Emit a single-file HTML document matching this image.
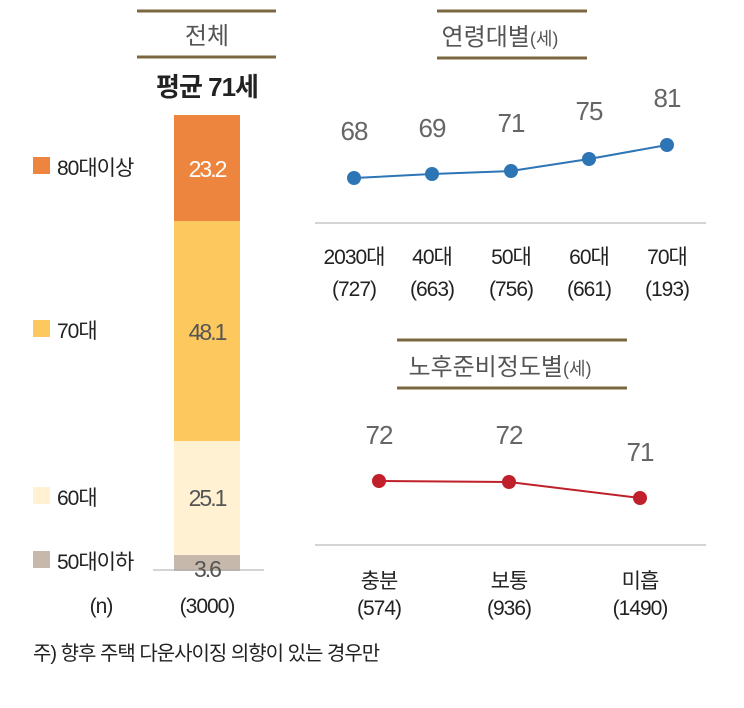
<!DOCTYPE html><html><head><meta charset="utf-8"><style>
body{margin:0;width:744px;height:703px;background:#fff;overflow:hidden}
svg text{font-family:"Liberation Sans","Noto Sans CJK KR",sans-serif}
</style></head><body>
<svg width="744" height="703" viewBox="0 0 744 703">
<g stroke="#7b6841" stroke-width="3">
<line x1="137" y1="11" x2="276" y2="11"/><line x1="137" y1="57" x2="276" y2="57"/>
<line x1="437" y1="11" x2="587" y2="11"/><line x1="437" y1="58" x2="587" y2="58"/>
<line x1="397" y1="340" x2="627" y2="340"/><line x1="397" y1="388" x2="627" y2="388"/>
</g>
<g font-size="24" fill="#555" text-anchor="middle">
<text x="207" y="44">전체</text>
<text x="500" y="45">연령대별<tspan font-size="18">(세)</tspan></text>
<text x="500" y="375">노후준비정도별<tspan font-size="18">(세)</tspan></text>
</g>
<text x="207" y="96" font-size="26" font-weight="bold" text-anchor="middle" fill="#222" letter-spacing="-1">평균 71세</text>
<rect x="174" y="115" width="66" height="106" fill="#ee853f"/>
<rect x="174" y="221" width="66" height="220" fill="#fdc85e"/>
<rect x="174" y="441" width="66" height="114" fill="#fff1d2"/>
<rect x="174" y="555" width="66" height="16" fill="#c6b9ab"/>
<line x1="153" y1="570" x2="264" y2="570" stroke="#aaa"/>
<g font-size="23" text-anchor="middle" letter-spacing="-2">
<text x="207" y="177" fill="#fff">23.2</text>
<text x="207" y="340" fill="#555">48.1</text>
<text x="207" y="506" fill="#555">25.1</text>
<text x="207" y="577" fill="#555">3.6</text>
</g>
<rect x="33" y="157" width="17" height="17" fill="#ee853f"/>
<rect x="33" y="320" width="17" height="17" fill="#fdc85e"/>
<rect x="33" y="487" width="17" height="17" fill="#fff1d2"/>
<rect x="33" y="551" width="17" height="17" fill="#c6b9ab"/>
<g font-size="21" fill="#222" letter-spacing="-1">
<text x="57" y="175">80대이상</text><text x="57" y="338">70대</text>
<text x="57" y="505">60대</text><text x="57" y="569">50대이하</text>
</g>
<g font-size="21" fill="#222" text-anchor="middle" letter-spacing="-1">
<text x="101" y="613">(n)</text><text x="207" y="613">(3000)</text>
<text x="354" y="264">2030대</text><text x="354" y="296">(727)</text>
<text x="432" y="264">40대</text><text x="432" y="296">(663)</text>
<text x="511" y="264">50대</text><text x="511" y="296">(756)</text>
<text x="589" y="264">60대</text><text x="589" y="296">(661)</text>
<text x="667" y="264">70대</text><text x="667" y="296">(193)</text>
<text x="379" y="588">충분</text><text x="379" y="615">(574)</text>
<text x="509" y="588">보통</text><text x="509" y="615">(936)</text>
<text x="640" y="588">미흡</text><text x="640" y="615">(1490)</text>
</g>
<line x1="315" y1="223" x2="706" y2="223" stroke="#aaa"/>
<line x1="315" y1="545" x2="706" y2="545" stroke="#aaa"/>
<polyline points="354,178 432,174 511,171 589,159 667,145" fill="none" stroke="#2e75b6" stroke-width="2"/>
<g fill="#2e75b6"><circle cx="354" cy="178" r="7"/><circle cx="432" cy="174" r="7"/><circle cx="511" cy="171" r="7"/><circle cx="589" cy="159" r="7"/><circle cx="667" cy="145" r="7"/></g>
<polyline points="379,481 509,482 640,498" fill="none" stroke="#c0202a" stroke-width="2"/>
<g fill="#c0202a"><circle cx="379" cy="481" r="7"/><circle cx="509" cy="482" r="7"/><circle cx="640" cy="498" r="7"/></g>
<g font-size="26" fill="#666" text-anchor="middle" letter-spacing="-1">
<text x="354" y="140">68</text><text x="432" y="137">69</text><text x="511" y="132">71</text><text x="589" y="120">75</text><text x="667" y="107">81</text>
<text x="379" y="444">72</text><text x="509" y="444">72</text><text x="640" y="461">71</text>
</g>
<text x="33" y="660" font-size="20" fill="#222" letter-spacing="-1">주) 향후 주택 다운사이징 의향이 있는 경우만</text>
</svg>
</body></html>
